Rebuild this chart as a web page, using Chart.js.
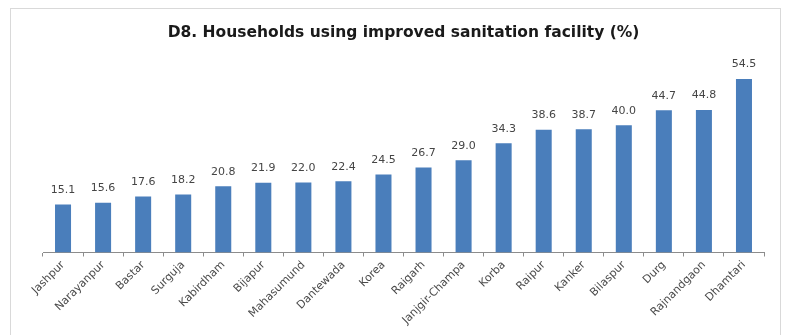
<!DOCTYPE html>
<html>
<head>
<meta charset="utf-8">
<script src="https://cdn.jsdelivr.net/npm/chart.js@4.4.1/dist/chart.umd.min.js"></script>
<style>
    html, body { margin: 0; padding: 0; background: #fff; }
    #wrap { position: relative; width: 785px; height: 335px; }
    #frame {
        position: absolute; left: 10px; top: 8px; width: 771px; height: 340px;
        border: 1px solid #d9d9d9; box-sizing: border-box; pointer-events: none;
    }
</style>
</head>
<body>
<div id="wrap">
    <canvas id="sanitationChart" width="785" height="335"></canvas>
    <div id="frame"></div>
</div>
<script>
const districts = ["Jashpur", "Narayanpur", "Bastar", "Surguja", "Kabirdham", "Bijapur", "Mahasumund", "Dantewada", "Korea",
    "Raigarh", "Janjgir-Champa", "Korba", "Raipur", "Kanker", "Bilaspur", "Durg", "Rajnandgaon", "Dhamtari"];
const sanitationPct = [15.1, 15.6, 17.6, 18.2, 20.8, 21.9, 22.0, 22.4, 24.5, 26.7, 29.0, 34.3, 38.6, 38.7, 40.0, 44.7, 44.8, 54.5];

const ctx = document.getElementById("sanitationChart").getContext("2d");

// value printed above each bar
const barValues = {
    id: 'barValues',
    afterDatasetsDraw(chart) {
        const c = chart.ctx;
        const meta = chart.getDatasetMeta(0);
        c.save();
        c.font = '11px "DejaVu Sans"';
        c.fillStyle = '#454545';
        c.textAlign = 'center';
        c.textBaseline = 'bottom';
        meta.data.forEach((bar, i) => {
            c.fillText(chart.data.datasets[0].data[i].toFixed(1), bar.x, bar.y - 9);
        });
        c.restore();
    }
};

let chart = new Chart(ctx, {
    type: 'bar',
    data: {
        labels: districts,
        datasets: [{
            data: sanitationPct,
            backgroundColor: '#4A7EBB',
            barPercentage: 0.8,
            categoryPercentage: 0.5
        }]
    },
    options: {
        responsive: false,
        animation: false,
        layout: { padding: { left: 43, right: 21, top: 0, bottom: 6 } },
        plugins: {
            legend: { display: false },
            tooltip: { enabled: false },
            title: {
                display: true,
                text: "D8. Households using improved sanitation facility (%)",
                color: '#1a1a1a',
                font: { family: 'DejaVu Sans', size: 15.5, weight: 'bold' },
                padding: { top: 24, bottom: 19 }
            }
        },
        scales: {
            y: { display: false, min: 0, max: 60 },
            x: {
                border: { color: '#8c8c8c' },
                grid: { display: true, drawOnChartArea: false, drawTicks: true, tickLength: 4, color: '#8c8c8c' },
                ticks: {
                    color: '#4a4a4a',
                    font: { family: 'DejaVu Sans', size: 11 },
                    minRotation: 45,
                    maxRotation: 45,
                    padding: 2
                }
            }
        }
    },
    plugins: [barValues]
});
</script>
</body>
</html>
